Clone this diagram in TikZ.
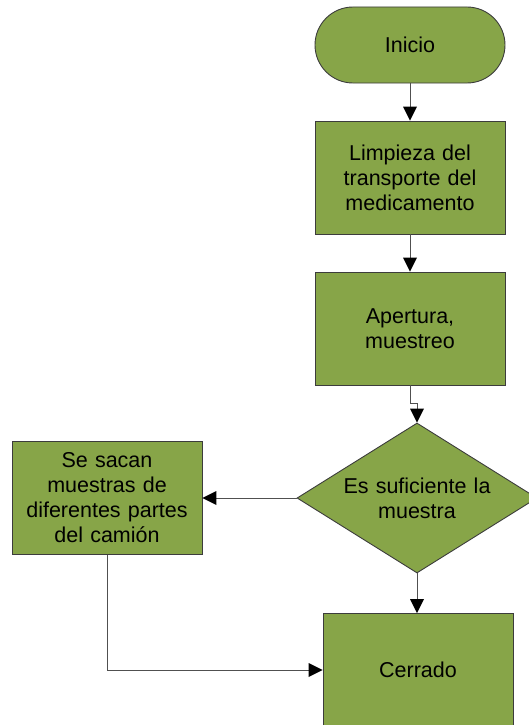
\documentclass[tikz,border=0pt]{standalone}
\usepackage{fontspec}
\setmainfont{Liberation Sans}
\usetikzlibrary{shapes.geometric,arrows.meta}
\definecolor{boxgreen}{RGB}{135,165,72}
\definecolor{edgegray}{RGB}{60,60,60}
\definecolor{linegray}{RGB}{80,80,80}
\tikzset{
  base/.style={draw=edgegray, line width=0.9pt, fill=boxgreen, inner sep=0pt,
    align=center, font=\fontsize{21.5}{25}\selectfont},
  procbox/.style={base, rectangle, minimum width=190pt, minimum height=113pt, text width=180pt},
  termbox/.style={base, rectangle, rounded corners=38pt, minimum width=190pt, minimum height=76pt},
  decbox/.style={base, diamond, shape aspect=1.6, minimum width=240pt, minimum height=150pt, text width=170pt},
  conn/.style={draw=linegray, line width=0.9pt, -{Triangle[length=14pt,width=14pt,fill=black,line width=0pt]}}
}
\begin{document}
\begin{tikzpicture}[x=1pt,y=-1pt]
\useasboundingbox (0,0) rectangle (528,725);
\node[termbox] (inicio) at (410,45) {Inicio};
\node[procbox] (limp) at (410,177.5) {Limpieza del\\transporte del\\medicamento};
\node[procbox] (aper) at (410,328.5) {Apertura,\\muestreo};
\node[decbox] (dec) at (417,498) {Es suficiente la\\muestra};
\node[procbox] (saca) at (107,498) {Se sacan\\muestras de\\diferentes partes\\del camión};
\node[procbox] (cerr) at (418,670) {Cerrado};
\coordinate (j1) at (410,403);
\coordinate (j2) at (417,403);
\coordinate (j3) at (107,670);
\draw[conn] (inicio.south) -- (limp.north);
\draw[conn] (limp.south) -- (aper.north);
\draw[conn] (aper.south) -- (j1) -- (j2) -- (dec.north);
\draw[conn] (dec.west) -- (saca.east);
\draw[conn] (dec.south) -- (dec.south |- cerr.north);
\draw[conn] (saca.south) -- (j3) -- (cerr.west);
\end{tikzpicture}
\end{document}
